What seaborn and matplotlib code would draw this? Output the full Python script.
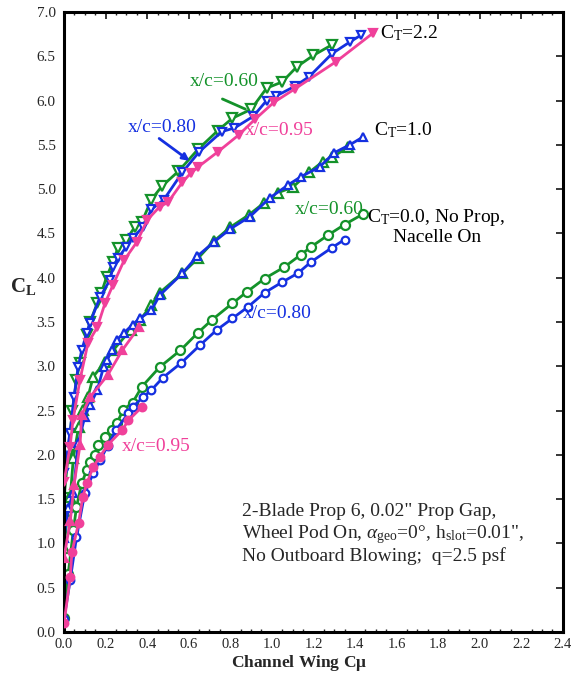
import numpy as np
import pandas as pd
import matplotlib
matplotlib.use("Agg")
import matplotlib.pyplot as plt
import seaborn as sns
from matplotlib.ticker import MultipleLocator

# ---------------- data ----------------
# C_T = 2.2
ct22_060_x = [0.0, 0.02, 0.04, 0.06, 0.075, 0.11, 0.125, 0.16, 0.18, 0.205, 0.236, 0.26, 0.30, 0.34, 0.375,
              0.42, 0.47, 0.55, 0.645, 0.74, 0.81, 0.90, 0.975, 1.05, 1.12, 1.20, 1.29]
ct22_060_y = [1.51, 2.0, 2.5, 2.84, 3.04, 3.35, 3.50, 3.71, 3.83, 4.01, 4.18, 4.34, 4.43, 4.57, 4.63,
              4.88, 5.03, 5.20, 5.45, 5.66, 5.80, 5.90, 6.14, 6.21, 6.38, 6.51, 6.63]
ct22_080_x = [0.0, 0.015, 0.029, 0.048, 0.068, 0.085, 0.11, 0.125, 0.173, 0.22, 0.236, 0.26, 0.30, 0.33,
              0.38, 0.42, 0.48, 0.57, 0.65, 0.76, 0.82, 0.91, 0.975, 1.02, 1.11, 1.18, 1.29, 1.375, 1.43]
ct22_080_y = [1.80, 2.05, 2.25, 2.65, 2.99, 3.18, 3.38, 3.49, 3.78, 3.97, 4.12, 4.22, 4.35, 4.45,
              4.57, 4.77, 4.88, 5.19, 5.42, 5.65, 5.69, 5.82, 6.0, 6.05, 6.16, 6.27, 6.53, 6.66, 6.74]
ct22_095_x = [0.0, 0.029, 0.043, 0.077, 0.115, 0.16, 0.197, 0.236, 0.29, 0.35, 0.40, 0.46, 0.50, 0.57,
              0.61, 0.645, 0.74, 0.84, 0.92, 1.01, 1.11, 1.31, 1.486]
ct22_095_y = [1.69, 2.09, 2.39, 2.85, 3.26, 3.44, 3.71, 3.92, 4.20, 4.40, 4.65, 4.80, 4.85, 5.08,
              5.18, 5.25, 5.42, 5.61, 5.79, 5.98, 6.13, 6.44, 6.76]
# C_T = 1.0
ct10_060_x = [0.0, 0.015, 0.03, 0.045, 0.07, 0.09, 0.115, 0.14, 0.197, 0.236, 0.32, 0.365, 0.42, 0.46,
              0.57, 0.645, 0.72, 0.80, 0.89, 0.96, 1.03, 1.10, 1.18, 1.245, 1.29, 1.365]
ct10_060_y = [0.95, 1.3, 1.52, 1.97, 2.31, 2.51, 2.65, 2.88, 3.05, 3.18, 3.41, 3.52, 3.69, 3.83,
              4.05, 4.22, 4.41, 4.57, 4.71, 4.84, 4.96, 5.02, 5.19, 5.31, 5.36, 5.47]
ct10_080_x = [0.0, 0.02, 0.045, 0.068, 0.10, 0.125, 0.16, 0.19, 0.207, 0.23, 0.255, 0.29, 0.33, 0.365,
              0.42, 0.46, 0.57, 0.64, 0.72, 0.80, 0.895, 0.99, 1.08, 1.14, 1.23, 1.30, 1.375, 1.44]
ct10_080_y = [1.06, 1.40, 1.57, 2.13, 2.43, 2.56, 2.73, 2.99, 3.07, 3.18, 3.30, 3.38, 3.47, 3.54,
              3.63, 3.80, 4.05, 4.24, 4.40, 4.55, 4.69, 4.90, 5.05, 5.14, 5.25, 5.41, 5.50, 5.59]
ct10_095_x = [0.0, 0.03, 0.048, 0.077, 0.085, 0.125, 0.21, 0.28, 0.36]
ct10_095_y = [0.84, 1.25, 1.66, 2.11, 2.45, 2.65, 2.90, 3.18, 3.44]
# C_T = 0.0
ct00_060_x = [0.0, 0.02, 0.045, 0.06, 0.085, 0.11, 0.125, 0.15, 0.165, 0.197, 0.23, 0.255, 0.285, 0.33,
              0.375, 0.46, 0.56, 0.645, 0.71, 0.81, 0.88, 0.965, 1.06, 1.14, 1.19, 1.27, 1.35, 1.44]
ct00_060_y = [0.16, 0.65, 1.15, 1.41, 1.68, 1.83, 1.92, 2.00, 2.11, 2.20, 2.28, 2.36, 2.51, 2.59,
              2.77, 2.99, 3.18, 3.38, 3.52, 3.71, 3.84, 3.99, 4.12, 4.26, 4.35, 4.48, 4.60, 4.72]
ct00_080_x = [0.0, 0.03, 0.06, 0.10, 0.14, 0.173, 0.21, 0.25, 0.31, 0.33, 0.38, 0.42, 0.475, 0.565,
              0.655, 0.735, 0.81, 0.885, 0.965, 1.05, 1.125, 1.19, 1.29, 1.35]
ct00_080_y = [0.15, 0.59, 1.07, 1.57, 1.79, 1.94, 2.10, 2.28, 2.47, 2.54, 2.65, 2.73, 2.87, 3.04,
              3.24, 3.41, 3.54, 3.67, 3.83, 3.95, 4.05, 4.18, 4.34, 4.43]
ct00_095_x = [0.0, 0.03, 0.038, 0.07, 0.09, 0.11, 0.14, 0.173, 0.21, 0.28, 0.31, 0.375]
ct00_095_y = [0.10, 0.62, 0.90, 1.23, 1.52, 1.68, 1.86, 1.98, 2.11, 2.28, 2.39, 2.54]

x_ticks = [0.0, 0.2, 0.4, 0.6, 0.8, 1.0, 1.2, 1.4, 1.6, 1.8, 2.0, 2.2, 2.4]
y_ticks = [0.0, 0.5, 1.0, 1.5, 2.0, 2.5, 3.0, 3.5, 4.0, 4.5, 5.0, 5.5, 6.0, 6.5, 7.0]

GREEN = "#14922a"
BLUE = "#1530e0"
PINK = "#f0409a"

series = [
    ("2.2", "0.60", ct22_060_x, ct22_060_y),
    ("2.2", "0.80", ct22_080_x, ct22_080_y),
    ("2.2", "0.95", ct22_095_x, ct22_095_y),
    ("1.0", "0.60", ct10_060_x, ct10_060_y),
    ("1.0", "0.80", ct10_080_x, ct10_080_y),
    ("1.0", "0.95", ct10_095_x, ct10_095_y),
    ("0.0", "0.60", ct00_060_x, ct00_060_y),
    ("0.0", "0.80", ct00_080_x, ct00_080_y),
    ("0.0", "0.95", ct00_095_x, ct00_095_y),
]
rows = []
for ct, xc, xs, ys in series:
    for i, (a, b) in enumerate(zip(xs, ys)):
        rows.append({"CT": ct, "xc": xc, "Cmu": a, "CL": b, "i": i})
df = pd.DataFrame(rows)

# ---------------- plot ----------------
sns.set_style("white")
plt.rcParams["font.family"] = ["Liberation Serif", "DejaVu Serif"]
plt.rcParams["mathtext.fontset"] = "custom"
plt.rcParams["mathtext.rm"] = "Liberation Serif"
plt.rcParams["mathtext.it"] = "Liberation Serif:italic"
plt.rcParams["mathtext.bf"] = "Liberation Serif:bold"

fig = plt.figure(figsize=(5.82, 6.74), dpi=100)
ax = fig.add_axes([0.110, 0.0623, 0.857, 0.920])

colors = {"0.60": GREEN, "0.80": BLUE, "0.95": PINK}
markers = {"2.2": "v", "1.0": "^", "0.0": "o"}

for (ct, xc), g in df.groupby(["CT", "xc"], sort=False):
    c = colors[xc]
    face = c if xc == "0.95" else "white"
    ms = 6.5 if xc == "0.60" else 5.5
    sns.lineplot(data=g, x="Cmu", y="CL", sort=False, estimator=None, ax=ax,
                 color=c, lw=2.0, marker=markers[ct], markersize=ms,
                 markerfacecolor=face, markeredgecolor=c, markeredgewidth=1.6,
                 zorder=3 if xc == "0.95" else 2)

ax.set_xlim(0, 2.4)
ax.set_ylim(0, 7.0)
ax.set_xticks(x_ticks)
ax.set_xticklabels([f"{v:.1f}" for v in x_ticks])
ax.set_yticks(y_ticks)
ax.set_yticklabels([f"{v:.1f}" for v in y_ticks])
ax.xaxis.set_minor_locator(MultipleLocator(0.05))
ax.tick_params(axis="y", which="major", direction="in", length=5, width=1.3,
               labelsize=11, right=True, pad=6)
ax.tick_params(axis="x", which="major", direction="in", length=5, width=1.3,
               labelsize=10.5, top=True, pad=4)
ax.tick_params(axis="x", which="minor", direction="in", length=2.5, width=1.0,
               top=True, bottom=True)
for s in ax.spines.values():
    s.set_linewidth(2.2)
    s.set_color("black")
ax.grid(False)

ax.set_xlabel(r"Channel Wing C$\mathbf{\mu}$", fontsize=12.5, fontweight="bold")
ax.xaxis.label.set_va("bottom")
ax.xaxis.set_label_coords(0.471, -0.0665)
ax.set_ylabel(r"C$_\mathbf{L}$", fontsize=15, fontweight="bold", rotation=0)
ax.yaxis.set_label_coords(-0.082, 0.54)

fs = 14
ax.text(0.606, 6.21, "x/c=0.60", color=GREEN, fontsize=fs, va="center")
ax.annotate("", xy=(0.885, 5.89), xytext=(0.75, 6.03),
            arrowprops=dict(arrowstyle="-", color=GREEN, lw=2.0))
ax.text(0.308, 5.70, "x/c=0.80", color=BLUE, fontsize=fs, va="center")
ax.annotate("", xy=(0.615, 5.30), xytext=(0.447, 5.59),
            arrowprops=dict(arrowstyle="-|>", color=BLUE, lw=2.0, mutation_scale=10))
ax.text(0.87, 5.66, "x/c=0.95", color=PINK, fontsize=fs, va="center")
ax.text(1.52, 6.76, r"C$_\mathrm{T}$=2.2", color="black", fontsize=fs, va="center")
ax.text(1.49, 5.67, r"C$_\mathrm{T}$=1.0", color="black", fontsize=fs, va="center")
ax.text(1.11, 4.77, "x/c=0.60", color=GREEN, fontsize=fs, va="center")
ax.text(1.46, 4.58, "C$_\\mathrm{T}$=0.0, No Prop,\nNacelle On", color="black", fontsize=fs,
        va="center", multialignment="center", linespacing=1.1)
ax.text(0.86, 3.60, "x/c=0.80", color=BLUE, fontsize=fs, va="center")
ax.text(0.28, 2.09, "x/c=0.95", color=PINK, fontsize=fs, va="center")

fs2 = 14
ax.text(0.856, 1.355, '2-Blade Prop 6, 0.02" Prop Gap,', fontsize=fs2, va="center")
ax.text(0.856, 1.095, 'Wheel Pod On, $\\alpha_{\\mathrm{geo}}$=0°, h$_{\\mathrm{slot}}$=0.01",',
        fontsize=fs2, va="center")
ax.text(0.856, 0.858, "No Outboard Blowing;  q=2.5 psf", fontsize=fs2, va="center")

fig.savefig("out.png", dpi=100)
